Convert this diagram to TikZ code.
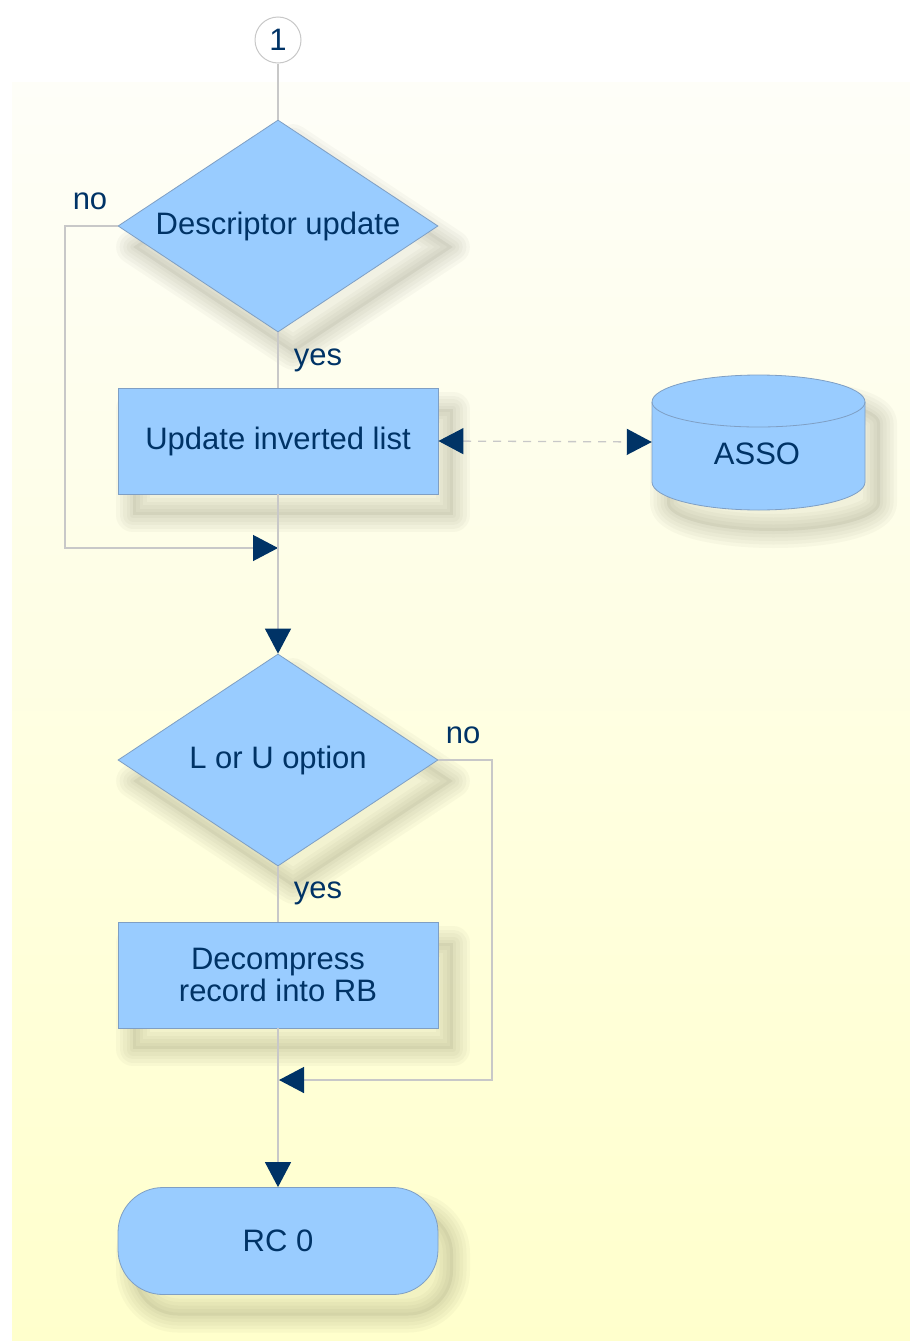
\documentclass[tikz,border=0pt]{standalone}
\usepackage{fontspec}
\setmainfont{Liberation Sans}
\usetikzlibrary{shapes.geometric,arrows.meta}
\definecolor{boxfill}{HTML}{99CCFF}
\definecolor{boxline}{HTML}{7F9FC4}
\definecolor{navy}{HTML}{003366}
\definecolor{conn}{HTML}{C8C8C8}
\definecolor{bgtop}{HTML}{FEFEF8}
\definecolor{bgbot}{HTML}{FFFFCC}
\definecolor{shcol}{HTML}{4A4A30}
\begin{document}
\begin{tikzpicture}[x=1pt,y=-1pt,
  txt/.style={text=navy,font=\fontsize{31}{36}\selectfont},
  shlayer/.style={preaction={draw=shcol,fill=none,opacity=0.035,line width=#1,line join=round,transform canvas={shift={(15pt,-21pt)}}}},
  shad/.style={preaction={fill=shcol,draw=none,opacity=0.07,transform canvas={shift={(15pt,-21pt)}}},
    shlayer=34pt,shlayer=27pt,shlayer=20pt,shlayer=13pt,shlayer=6pt},
  boxstyle/.style={txt,draw=boxline,line width=0.8pt,fill=boxfill,shad,align=center},
  procbox/.style={boxstyle,rectangle,minimum width=320pt,minimum height=106pt,inner sep=0pt},
  decbox/.style={boxstyle,diamond,aspect=1.51,minimum width=320pt,minimum height=212pt,inner sep=0pt},
  termbox/.style={boxstyle,rectangle,rounded corners=45pt,minimum width=320pt,minimum height=107pt,inner sep=0pt},
  conn/.style={draw=conn,line width=1.3pt},
  tip/.style={-{Triangle[length=25pt,width=26pt,color=navy,fill=navy]}},
  lbl/.style={txt,inner sep=0pt}
]
\useasboundingbox (0,0) rectangle (910,1341);
\fill[white] (0,0) rectangle (910,1341);
\shade[top color=bgtop,bottom color=bgbot] (12,82) rectangle (910,1341);

% nodes
\node[circle,draw=conn,line width=1pt,fill=white,minimum size=46pt,inner sep=0pt,txt] (c1) at (278,40) {1};
\node[decbox] (d1) at (278,226) {Descriptor update};
\node[procbox] (r1) at (278,441) {Update inverted list};
\node[decbox] (d2) at (278,760) {L or U option};
\node[procbox] (r2) at (278,975) {Decompress\\[-4pt]record into RB};
\node[termbox] (t) at (278,1241) {RC 0};

% ASSO cylinder
\path[shad,fill=boxfill,draw=boxline,line width=0.8pt]
  (652,402) -- (652,482) arc[start angle=180,end angle=360,x radius=106.5pt,y radius=28pt]
  -- (865,402) arc[start angle=0,end angle=180,x radius=106.5pt,y radius=27pt] -- cycle;
\draw[boxline,line width=0.8pt] (652,402) arc[start angle=180,end angle=360,x radius=106.5pt,y radius=25pt];
\node[minimum width=213pt,minimum height=135pt,inner sep=0pt] (asso) at (758.5,442) {};
\node[lbl] (assotxt) at (757,454) {ASSO};

% labels
\node[lbl] (no1) at (90,201) {no};
\node[lbl] (yes1) at (318,360) {yes};
\node[lbl] (no2) at (463,735) {no};
\node[lbl] (yes2) at (318,893) {yes};

% helper coordinates
\coordinate (n1) at (65,226);
\coordinate (m1) at (278,548);
\coordinate (n2) at (492,760);
\coordinate (m2) at (279,1080);

% connectors
\draw[conn] (c1) -- (d1.north);
\draw[conn,tip] (d1.west) -- (n1) |- (m1);
\draw[conn] (d1.south) -- (r1.north);
\draw[conn,tip] (r1.south) -- (d2.north);
\draw[draw=conn,line width=1.3pt,dash pattern=on 8pt off 7pt,
  {Triangle[length=25pt,width=26pt,color=navy,fill=navy]}-{Triangle[length=25pt,width=26pt,color=navy,fill=navy]}]
  (r1.east) -- (asso.west);
\draw[conn,tip] (d2.east) -- (n2) |- (m2);
\draw[conn] (d2.south) -- (r2.north);
\draw[conn,tip] (r2.south) -- (t.north);
\end{tikzpicture}
\end{document}
